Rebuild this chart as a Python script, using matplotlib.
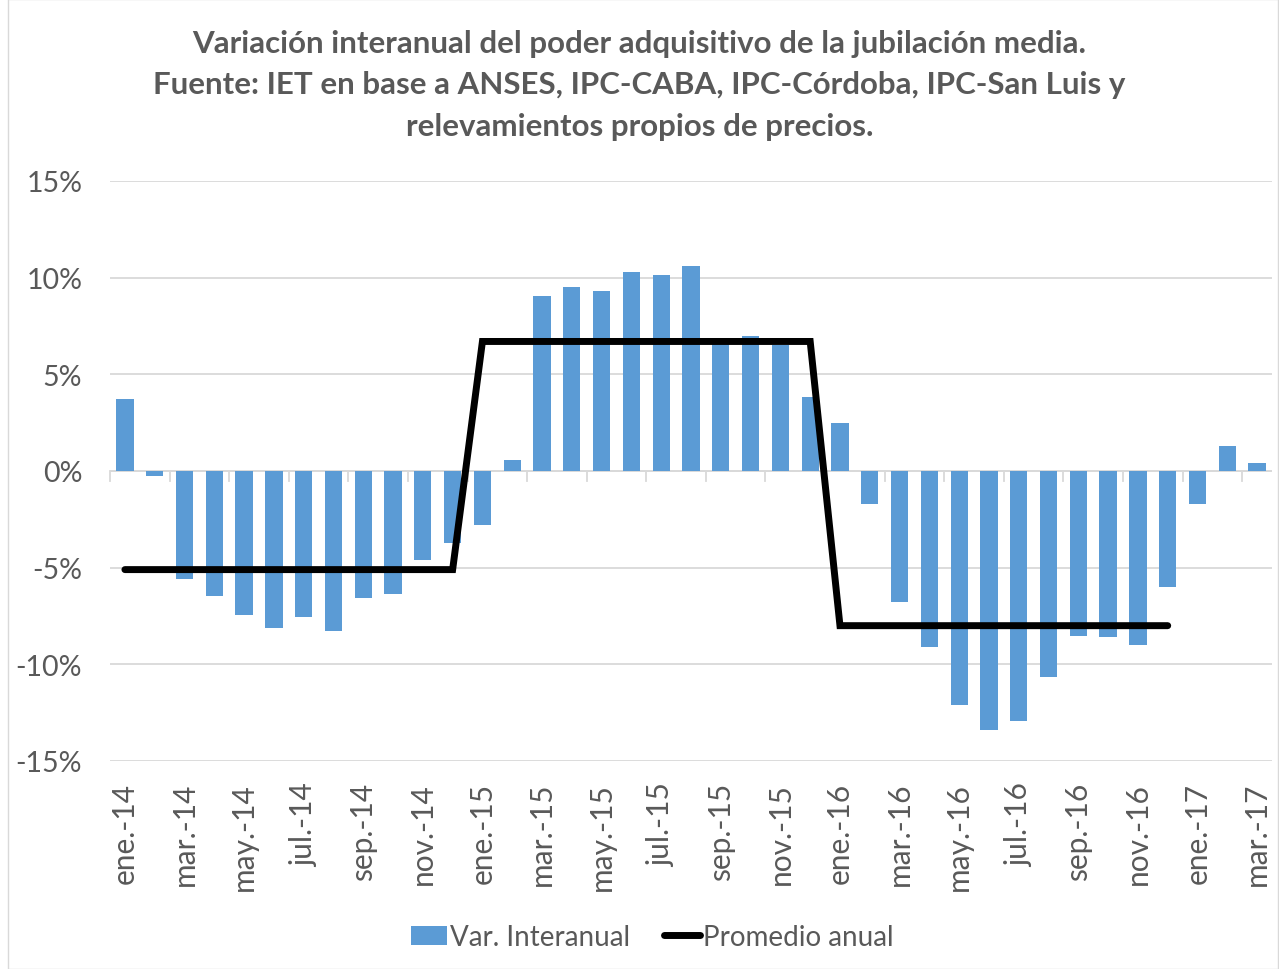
import numpy as np
import matplotlib.pyplot as plt
from matplotlib.patches import Rectangle

meses = ['ene', 'feb', 'mar', 'abr', 'may', 'jun', 'jul', 'ago', 'sep', 'oct', 'nov', 'dic']
anios = ['14', '15', '16', '17']
categorias = [m + '.-' + a for a in anios for m in meses][:39]

var_interanual = [3.7, -0.25, -5.6, -6.45, -7.45, -8.1, -7.55, -8.25, -6.55, -6.35, -4.6, -3.7,
                  -2.8, 0.55, 9.05, 9.5, 9.3, 10.3, 10.15, 10.6, 6.65, 7.0, 6.5, 3.85,
                  2.5, -1.7, -6.75, -9.1, -12.1, -13.4, -12.95, -10.65, -8.55, -8.6, -9.0, -6.0,
                  -1.7, 1.3, 0.4]
promedio_anual = [-5.1] * 12 + [6.7] * 12 + [-8.0] * 12

plt.rcParams['font.family'] = ['Lato', 'DejaVu Sans']
gris = '#595959'

fig = plt.figure(figsize=(12.79, 9.70), dpi=100)
ax = fig.add_axes([110 / 1279, 1 - 762 / 970, 1162 / 1279, 580 / 970])

x = np.arange(len(categorias))
barras = ax.bar(x, np.array(var_interanual) / 100, width=0.58, color='#5B9BD5', zorder=2)
linea, = ax.plot(x[:len(promedio_anual)], np.array(promedio_anual) / 100, color='black', lw=5,
                 solid_capstyle='round', solid_joinstyle='miter', zorder=3)

ax.set_xlim(-0.5, len(categorias) - 0.5)
ax.set_ylim(-0.15, 0.15)
ax.set_yticks(np.arange(-0.15, 0.151, 0.05))
ax.set_yticklabels(['%d%%' % round(v * 100) for v in np.arange(-0.15, 0.151, 0.05)],
                   fontsize=20.5, color=gris)
ax.grid(axis='y', color='#D9D9D9', lw=1.3, zorder=0)
ax.axhline(0, color='#D9D9D9', lw=1.3, zorder=1)
for s in ax.spines.values():
    s.set_visible(False)
ax.tick_params(axis='y', length=0, pad=20)

ax.set_xticks(x[::2])
ax.set_xticklabels(categorias[::2], rotation=90, fontsize=21.5, color=gris)
ax.tick_params(axis='x', length=0, pad=15)
# marcas de categoría sobre el eje cero
for b in np.arange(-0.5, len(categorias), 2):
    ax.plot([b, b], [0, -0.005], color='#D9D9D9', lw=1.3, zorder=1, clip_on=False)

fig.text(0.5, 1 - 30 / 970,
         'Variación interanual del poder adquisitivo de la jubilación media.\n'
         'Fuente: IET en base a ANSES, IPC-CABA, IPC-Córdoba, IPC-San Luis y\n'
         'relevamientos propios de precios.',
         ha='center', va='top', fontsize=22.5, fontweight='bold', color=gris, linespacing=1.58)

leg = fig.legend([barras, linea], ['Var. Interanual', 'Promedio anual'],
                 loc='center', bbox_to_anchor=(0.51, 1 - 938 / 970), ncol=2, frameon=False,
                 fontsize=20, handlelength=1.3, handletextpad=0.1, columnspacing=1.2)
for t in leg.get_texts():
    t.set_color(gris)

fig.patches.append(Rectangle((8 / 1279, 0), 1 - 9 / 1279, 1, transform=fig.transFigure,
                             fill=False, edgecolor='#D9D9D9', lw=1))

fig.savefig('out.png', dpi=100)
